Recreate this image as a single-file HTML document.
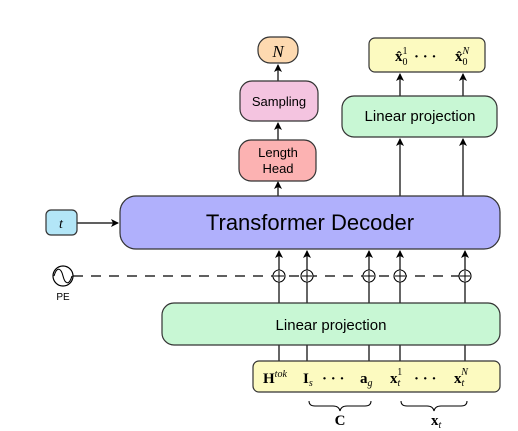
<!DOCTYPE html>
<html><head><meta charset="utf-8"><style>
html,body{margin:0;padding:0;background:#fff;}
svg{display:block;}
.s{font-family:"Liberation Sans",sans-serif;}
.m{font-family:"Liberation Serif",serif;}
</style></head><body>
<svg width="518" height="431" viewBox="0 0 518 431" xmlns="http://www.w3.org/2000/svg">
<defs><marker id="a" markerWidth="8" markerHeight="8" refX="7" refY="4" orient="auto" markerUnits="userSpaceOnUse"><path d="M0,0 L8,4 L0,8 L2,4 Z" fill="#000"/></marker></defs>
<g stroke="#000" stroke-width="1.2" fill="none">
<!-- top arrows -->
<line x1="278" y1="81" x2="278" y2="65" marker-end="url(#a)"/>
<line x1="278" y1="140" x2="278" y2="123" marker-end="url(#a)"/>
<line x1="278" y1="197" x2="278" y2="182" marker-end="url(#a)"/>
<line x1="400" y1="96" x2="400" y2="74" marker-end="url(#a)"/>
<line x1="463" y1="96" x2="463" y2="74" marker-end="url(#a)"/>
<line x1="400" y1="197" x2="400" y2="139" marker-end="url(#a)"/>
<line x1="463" y1="197" x2="463" y2="139" marker-end="url(#a)"/>
<line x1="77" y1="223" x2="118" y2="223" marker-end="url(#a)"/>
<!-- dashed -->
<line x1="73" y1="276" x2="470" y2="276" stroke-dasharray="10,8"/>
</g>
<g stroke="#000" stroke-width="1.2" fill="none">
<line x1="279" y1="303" x2="279" y2="251" marker-end="url(#a)"/>
<line x1="307" y1="303" x2="307" y2="251" marker-end="url(#a)"/>
<line x1="369" y1="303" x2="369" y2="251" marker-end="url(#a)"/>
<line x1="400" y1="303" x2="400" y2="251" marker-end="url(#a)"/>
<line x1="465" y1="303" x2="465" y2="251" marker-end="url(#a)"/>
<line x1="279" y1="345" x2="279" y2="361"/>
<line x1="307" y1="345" x2="307" y2="361"/>
<line x1="369" y1="345" x2="369" y2="361"/>
<line x1="400" y1="345" x2="400" y2="361"/>
<line x1="465" y1="345" x2="465" y2="361"/>
</g>
<g stroke="#000" stroke-width="1.1" fill="#fff">
<circle cx="279" cy="276" r="6"/><circle cx="307" cy="276" r="6"/><circle cx="369" cy="276" r="6"/><circle cx="400" cy="276" r="6"/><circle cx="465" cy="276" r="6"/>
</g>
<g stroke="#000" stroke-width="1">
<path d="M279 271v10M274 276h10M307 271v10M302 276h10M369 271v10M364 276h10M400 271v10M395 276h10M465 271v10M460 276h10"/>
</g>
<!-- boxes -->
<g stroke="#333" stroke-width="1.2">
<rect x="258" y="37" width="40" height="26" rx="12" fill="#fdd9b0"/>
<rect x="240" y="81" width="78" height="40" rx="12" fill="#f4c4e0"/>
<rect x="239" y="140" width="77" height="41" rx="12" fill="#fcb2b2"/>
<rect x="369" y="38" width="116" height="34" rx="6" fill="#fcfac0"/>
<rect x="342" y="96" width="155" height="41" rx="12" fill="#c8f7d4"/>
<rect x="120" y="196" width="380" height="53" rx="16" fill="#b0b0fc"/>
<rect x="46" y="210" width="31" height="25" rx="5" fill="#b3e6f7"/>
<rect x="162" y="303" width="338" height="42" rx="12" fill="#c8f7d4"/>
<rect x="253" y="361" width="247" height="31" rx="6" fill="#fcfac0"/>
</g>
<circle cx="63" cy="276" r="10" fill="#fff" stroke="#000" stroke-width="1.2"/>
<path d="M54 276 C57 266,61 268,63 276 C65 284,69 286,72 276" fill="none" stroke="#000" stroke-width="1.1"/>
<!-- braces -->
<path d="M309 401 q0 5 6 5 h18 q6 0 7 5 q1 -5 7 -5 h18 q6 0 6 -5" fill="none" stroke="#000" stroke-width="1"/>
<path d="M401 401 q0 5 6 5 h20 q6 0 7 5 q1 -5 7 -5 h20 q6 0 6 -5" fill="none" stroke="#000" stroke-width="1"/>
<!-- text -->
<text x="278" y="57" text-anchor="middle" class="m" font-size="17" font-style="italic">N</text>
<text x="279" y="106" text-anchor="middle" class="s" font-size="13">Sampling</text>
<text x="278" y="157" text-anchor="middle" class="s" font-size="13">Length</text>
<text x="278" y="173" text-anchor="middle" class="s" font-size="13">Head</text>
<text x="395" y="61" class="m" font-size="15" font-weight="bold">x̂<tspan font-size="10" dy="4" font-weight="normal">0</tspan><tspan font-size="10" dx="-5" dy="-11" font-weight="normal">1</tspan></text>
<text x="414" y="61" class="m" font-size="15" font-weight="bold">·  ·  ·</text>
<text x="455" y="61" class="m" font-size="15" font-weight="bold">x̂<tspan font-size="10" dy="4" font-weight="normal">0</tspan><tspan font-size="10" dx="-5" dy="-11" font-style="italic" font-weight="normal">N</tspan></text>
<text x="420" y="121" text-anchor="middle" class="s" font-size="15">Linear projection</text>
<text x="310" y="230" text-anchor="middle" class="s" font-size="22">Transformer Decoder</text>
<text x="61" y="228" text-anchor="middle" class="m" font-size="14" font-style="italic">t</text>
<text x="63" y="300" text-anchor="middle" class="s" font-size="10">PE</text>
<text x="331" y="330" text-anchor="middle" class="s" font-size="15">Linear projection</text>
<text x="263" y="383" class="m" font-size="15" font-weight="bold">H<tspan font-size="10" font-style="italic" font-weight="normal" dy="-6">tok</tspan></text>
<text x="303" y="383" class="m" font-size="15" font-weight="bold">I<tspan font-size="10" font-style="italic" font-weight="normal" dy="3">s</tspan></text>
<text x="322" y="383" class="m" font-size="15" font-weight="bold">·  ·  ·</text>
<text x="360" y="383" class="m" font-size="15" font-weight="bold">a<tspan font-size="10" font-style="italic" font-weight="normal" dy="3">g</tspan></text>
<text x="390" y="383" class="m" font-size="15" font-weight="bold">x<tspan font-size="10" font-style="italic" font-weight="normal" dy="3">t</tspan><tspan font-size="10" font-weight="normal" dx="-3" dy="-11">1</tspan></text>
<text x="414" y="383" class="m" font-size="15" font-weight="bold">·  ·  ·</text>
<text x="454" y="383" class="m" font-size="15" font-weight="bold">x<tspan font-size="10" font-style="italic" font-weight="normal" dy="3">t</tspan><tspan font-size="10" font-style="italic" font-weight="normal" dx="-3" dy="-11">N</tspan></text>
<text x="340" y="425" text-anchor="middle" class="m" font-size="15" font-weight="bold">C</text>
<text x="431" y="425" class="m" font-size="15" font-weight="bold">x<tspan font-size="10" font-style="italic" font-weight="normal" dy="3">t</tspan></text>
</svg>
</body></html>
